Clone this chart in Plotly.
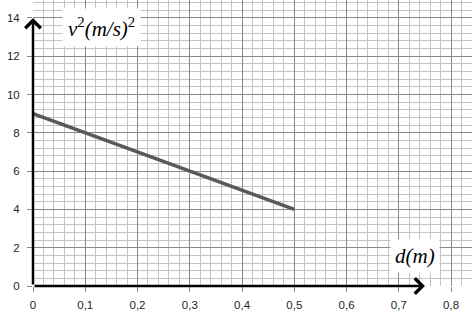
import plotly.graph_objects as go

# Data
d_values = [0, 0.5]
v2_values = [9, 4]

x_tickvals = [0, 0.1, 0.2, 0.3, 0.4, 0.5, 0.6, 0.7, 0.8]
x_ticktext = ["0", "0,1", "0,2", "0,3", "0,4", "0,5", "0,6", "0,7", "0,8"]
y_tickvals = [0, 2, 4, 6, 8, 10, 12, 14]
y_ticktext = ["0", "2", "4", "6", "8", "10", "12", "14"]

fig = go.Figure()
fig.add_trace(go.Scatter(
    x=d_values, y=v2_values, mode="lines",
    line=dict(color="#595959", width=3.5),
    showlegend=False, hoverinfo="skip",
))

tick_font = dict(family="Liberation Sans, Arial, sans-serif", size=11.5, color="#262626")

fig.update_layout(
    width=472, height=313,
    margin=dict(l=33, r=0, t=0, b=27),
    paper_bgcolor="white", plot_bgcolor="white",
    xaxis=dict(
        range=[0, 0.84], tickvals=x_tickvals, ticktext=x_ticktext,
        showgrid=True, gridcolor="#8a8a8a", gridwidth=1,
        minor=dict(dtick=0.02, tick0=0, showgrid=True, gridcolor="#c4c4c4", gridwidth=1),
        zeroline=False, showline=False,
        ticks="outside", ticklen=5, tickcolor="#8a8a8a",
        ticklabelstandoff=3,
        tickfont=tick_font, fixedrange=True,
    ),
    yaxis=dict(
        range=[0, 14.94], tickvals=y_tickvals, ticktext=y_ticktext,
        showgrid=True, gridcolor="#8a8a8a", gridwidth=1,
        minor=dict(dtick=0.4, tick0=0, showgrid=True, gridcolor="#c4c4c4", gridwidth=1),
        zeroline=False, showline=False,
        ticks="outside", ticklen=5, tickcolor="#8a8a8a",
        ticklabelstandoff=5,
        tickfont=tick_font, fixedrange=True,
    ),
)

# Axis arrows
fig.add_annotation(x=0.75, y=0, ax=0, ay=0, xref="x", yref="y", axref="x", ayref="y",
                   text="", showarrow=True, arrowhead=4, arrowsize=1.2, arrowwidth=2.5,
                   arrowcolor="black", standoff=0, startstandoff=0)
fig.add_annotation(x=0, y=14, ax=0, ay=0, xref="x", yref="y", axref="x", ayref="y",
                   text="", showarrow=True, arrowhead=4, arrowsize=1.2, arrowwidth=2.5,
                   arrowcolor="black", standoff=0, startstandoff=0)

label_font = dict(family="Liberation Serif, DejaVu Serif, serif", size=21, color="black")
fig.add_annotation(x=0.132, y=13.5, xref="x", yref="y", showarrow=False,
                   text="<i>v</i><sup>2</sup><i>(m/s)</i><sup>2</sup>",
                   font=label_font, bgcolor="white", borderpad=5)
fig.add_annotation(x=0.731, y=1.57, xref="x", yref="y", showarrow=False,
                   text="<i>d(m)</i>",
                   font=label_font, bgcolor="white", borderpad=4)

fig.write_html("out.html")
